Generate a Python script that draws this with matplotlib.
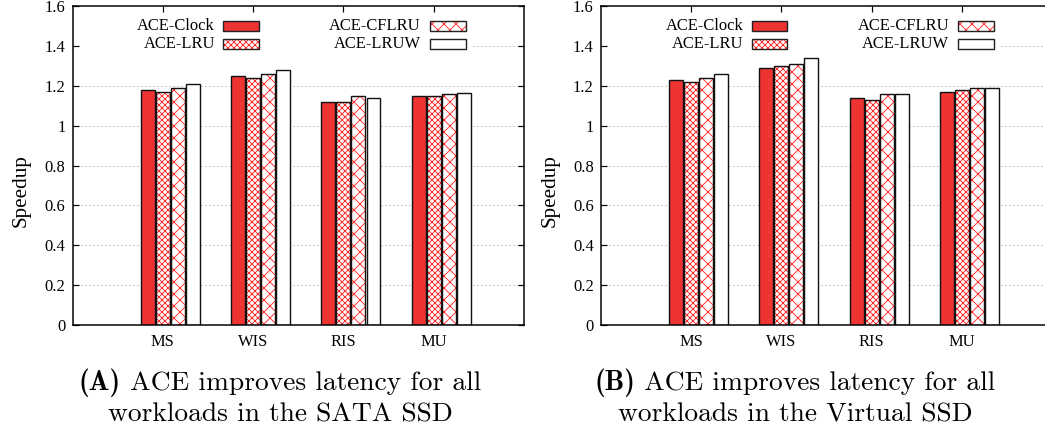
import numpy as np
import matplotlib.pyplot as plt
from matplotlib.patches import Rectangle

# Speedup of each ACE variant per workload
workloads = ["MS", "WIS", "RIS", "MU"]
series = ["ACE-Clock", "ACE-LRU", "ACE-CFLRU", "ACE-LRUW"]

sata_clock = [1.18, 1.25, 1.12, 1.15]
sata_lru = [1.17, 1.24, 1.12, 1.15]
sata_cflru = [1.19, 1.26, 1.15, 1.16]
sata_lruw = [1.21, 1.28, 1.14, 1.165]

virt_clock = [1.23, 1.29, 1.14, 1.17]
virt_lru = [1.22, 1.30, 1.13, 1.18]
virt_cflru = [1.24, 1.31, 1.16, 1.19]
virt_lruw = [1.26, 1.34, 1.16, 1.19]

y_ticks = [0, 0.2, 0.4, 0.6, 0.8, 1.0, 1.2, 1.4, 1.6]
y_tick_labels = ["0", "0.2", "0.4", "0.6", "0.8", "1", "1.2", "1.4", "1.6"]

captions = [
    ("(A)", "ACE improves latency for all", "workloads in the SATA SSD"),
    ("(B)", "ACE improves latency for all", "workloads in the Virtual SSD"),
]

RED = "#ee3333"
HATCH_RED = "#ff2a2a"
# face colour and hatch for each series
styles = [
    (RED, None),
    ("white", "xxxx"),
    ("white", "xx"),
    ("white", None),
]

plt.rcParams["hatch.linewidth"] = 0.9
TICK_FONT = "Liberation Serif"
FS = 16.5

DPI = 72
fig = plt.figure(figsize=(1045 / DPI, 437 / DPI), dpi=DPI)

ax_w = 451.5 / 1045
ax_h = 319 / 437
ax_y = 1 - 325 / 437
axes = [
    fig.add_axes([72.5 / 1045, ax_y, ax_w, ax_h]),
    fig.add_axes([600.7 / 1045, ax_y, ax_w, ax_h]),
]

datasets = [
    [sata_clock, sata_lru, sata_cflru, sata_lruw],
    [virt_clock, virt_lru, virt_cflru, virt_lruw],
]

x = np.arange(len(workloads))
slot = 1 / 6
bar_w = slot * 0.93


def draw_bar(ax, xpos, vals, face, hatch):
    if hatch:
        ax.bar(xpos, vals, bar_w, color=face, edgecolor=HATCH_RED, hatch=hatch,
               linewidth=0, zorder=2)
        ax.bar(xpos, vals, bar_w, fill=False, edgecolor="#111111",
               linewidth=1.4, zorder=2.1)
    else:
        ax.bar(xpos, vals, bar_w, color=face, edgecolor="#111111",
               linewidth=1.4, zorder=2)


for ax, data in zip(axes, datasets):
    for j, vals in enumerate(data):
        face, hatch = styles[j]
        draw_bar(ax, x - slot + j * slot, vals, face, hatch)

    ax.set_xlim(-1, 4)
    ax.set_ylim(0, 1.6)
    ax.set_xticks(x)
    ax.set_xticklabels(workloads, fontfamily=TICK_FONT, fontsize=FS)
    ax.set_yticks(y_ticks)
    ax.set_yticklabels(y_tick_labels, fontfamily=TICK_FONT, fontsize=FS)
    ax.tick_params(direction="in", length=6, width=1.2, top=True, right=True,
                   bottom=False, pad=7)
    ax.tick_params(axis="x", pad=9)
    for s in ax.spines.values():
        s.set_linewidth(1.5)
    ax.set_ylabel("Speedup", fontfamily=TICK_FONT, fontsize=21)
    ax.yaxis.set_label_coords(-0.092, 0.42)

    # dotted grid, cut off where the key sits
    for yt in y_ticks[1:-1]:
        xmin = 0.887 if yt == 1.4 else 0.0
        ax.axhline(yt, xmin=xmin, color="#999999", linestyle=(0, (1, 3)),
                   linewidth=1.0, zorder=0.5)

    # key: label right-aligned, sample box after it
    rows = [0.937, 0.881]
    cols = [(0.3156, 0.3344), (0.7718, 0.7918)]
    box_w, box_h = 0.079, 0.030
    for j, name in enumerate(series):
        tx, bx = cols[j // 2]
        ty = rows[j % 2]
        face, hatch = styles[j]
        ax.text(tx, ty, name, transform=ax.transAxes, ha="right", va="center",
                fontfamily=TICK_FONT, fontsize=FS, zorder=3)
        if hatch:
            ax.add_patch(Rectangle((bx, ty - box_h / 2), box_w, box_h,
                                   transform=ax.transAxes, facecolor=face,
                                   edgecolor=HATCH_RED, hatch=hatch,
                                   linewidth=0, zorder=3))
        ax.add_patch(Rectangle((bx, ty - box_h / 2), box_w, box_h,
                               transform=ax.transAxes,
                               facecolor=face if not hatch else "none",
                               edgecolor="#222222", linewidth=1.4, zorder=3.1))

# sub-figure captions: bold tag followed by roman text, centred as one line
renderer = fig.canvas.get_renderer()
CAP_FS = 27.5
for (tag, line1, line2), cx in zip(captions, [280 / 1045, 795 / 1045]):
    y1 = 1 - 383 / 437
    t_tag = fig.text(0, y1, tag, ha="left", va="center",
                     fontfamily="cmb10", fontsize=CAP_FS)
    t_rest = fig.text(0, y1, " " + line1, ha="left", va="center",
                      fontfamily="cmr10", fontsize=CAP_FS)
    w_tag = t_tag.get_window_extent(renderer).width / fig.bbox.width
    w_rest = t_rest.get_window_extent(renderer).width / fig.bbox.width
    x0 = cx - (w_tag + w_rest) / 2
    t_tag.set_x(x0)
    t_rest.set_x(x0 + w_tag)
    fig.text(cx, 1 - 415 / 437, line2, ha="center", va="center",
             fontfamily="cmr10", fontsize=CAP_FS)

fig.savefig("out.png", dpi=DPI)
